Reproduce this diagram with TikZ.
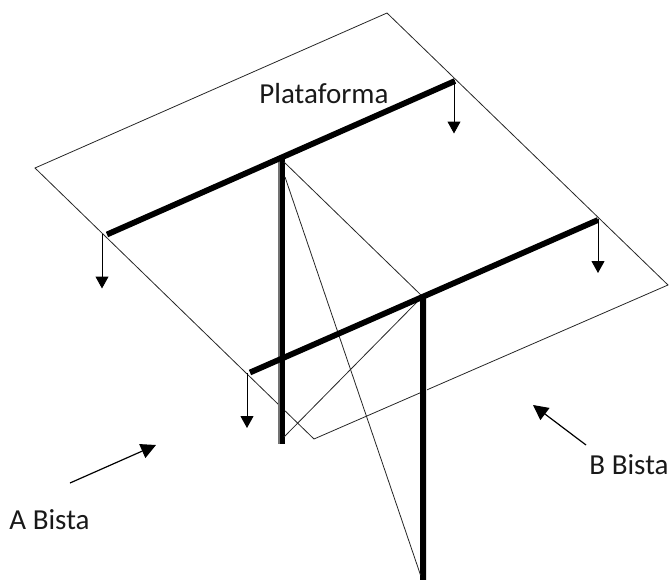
\documentclass[tikz,border=0pt]{standalone}
\usepackage{fontspec}
\setmainfont{Carlito}
\usetikzlibrary{arrows.meta}
\tikzset{
  thinline/.style={draw=black!85,line width=0.8pt},
  beam/.style={draw=black,line width=5.8pt},
  column/.style={draw=black,line width=5.5pt},
  shade/.style={draw=black!55,line width=2pt},
  lightshade/.style={draw=black!12,line width=1.5pt},
  load/.style={draw=black,line width=1pt,-{Triangle[length=12pt,width=13pt]}},
  view/.style={draw=black,line width=1.2pt,-{Triangle[length=15pt,width=15pt]}},
  label/.style={inner sep=0pt,anchor=base,font=\fontsize{29pt}{34pt}\selectfont,text=black!90}
}
\begin{document}
\begin{tikzpicture}[x=1pt,y=-1pt]
\useasboundingbox (0,0) rectangle (670,581);
% platform
\coordinate (pT) at (387,13);
\coordinate (pL) at (35,168);
\coordinate (pB) at (314,439);
\coordinate (pR) at (668,285);
\draw[thinline,line join=miter] (pT) -- (pL) -- (pB) -- (pR) -- cycle;
% beams
\coordinate (b1a) at (107,234.5);
\coordinate (b1b) at (455,81);
\coordinate (b2a) at (250,372.5);
\coordinate (b2b) at (598,220);
% column tops / bottoms
\coordinate (c1t) at (282.7,157);
\coordinate (c1b) at (282.7,444);
\coordinate (c2t) at (423,297);
\coordinate (c2b) at (423,580);
\coordinate (c1s) at (279,160);
\coordinate (c1e) at (279,444);
\coordinate (c2s) at (426.5,297);
\coordinate (c2e) at (426.5,580);
\draw[shade] (c1s) -- (c1e);
\draw[lightshade] (c2s) -- (c2e);
\draw[column] (c1t) -- (c1b);
\draw[column] (c2t) -- (c2b);
% bracing
\coordinate (d1a) at (284,162);
\coordinate (d1b) at (423,297);
\coordinate (d2a) at (285,177);
\coordinate (d2b) at (420.5,575);
\coordinate (d3a) at (284,437);
\coordinate (d3b) at (419,300);
\draw[thinline] (d1a) -- (d1b);
\draw[thinline] (d2a) -- (d2b);
\draw[thinline] (d3a) -- (d3b);
\draw[beam] (b1a) -- (b1b);
\draw[beam] (b2a) -- (b2b);
% loads
\coordinate (l1a) at (102,234);
\coordinate (l1b) at (102,288.5);
\coordinate (l2a) at (454,80);
\coordinate (l2b) at (454,133.5);
\coordinate (l3a) at (598,219);
\coordinate (l3b) at (598,273);
\coordinate (l4a) at (247,373);
\coordinate (l4b) at (247,428);
\draw[load] (l1a) -- (l1b);
\draw[load] (l2a) -- (l2b);
\draw[load] (l3a) -- (l3b);
\draw[load] (l4a) -- (l4b);
% view arrows
\coordinate (vAa) at (70,483);
\coordinate (vAb) at (156,445);
\coordinate (vBa) at (586,445);
\coordinate (vBb) at (533,405);
\draw[view] (vAa) -- (vAb);
\draw[view] (vBa) -- (vBb);
% labels
\node[label] (plat) at (324,103) {Plataforma};
\node[label] (abista) at (49.5,529) {A Bista};
\node[label] (bbista) at (629,474) {B Bista};
\end{tikzpicture}
\end{document}
